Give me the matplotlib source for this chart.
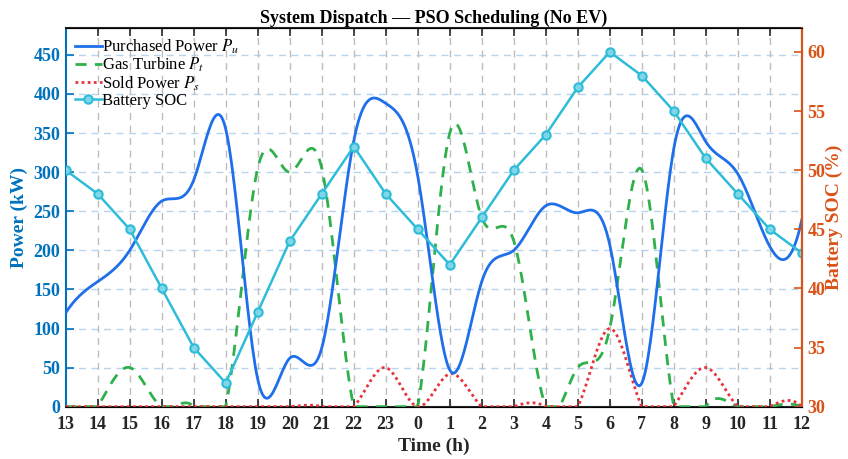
import numpy as np
import matplotlib
matplotlib.use("Agg")
import matplotlib.pyplot as plt

plt.rcParams['font.family'] = ['Liberation Serif', 'DejaVu Serif']
plt.rcParams['mathtext.fontset'] = 'stix'

# hourly schedule, starting at 13:00
hour_labels = [13, 14, 15, 16, 17, 18, 19, 20, 21, 22, 23, 0,
               1, 2, 3, 4, 5, 6, 7, 8, 9, 10, 11, 12]
p_purchased = [120, 160, 200, 263, 290, 355, 35, 62, 75, 340, 388, 295,
               47, 160, 200, 257, 248, 207, 30, 330, 339, 298, 205, 239]
p_turbine = [0, 0, 50, 0, 0, 0, 305, 300, 305, 0, 0, 0,
             350, 242, 212, 0, 50, 100, 303, 0, 0, 0, 0, 0]
p_sold = [0, 0, 0, 0, 0, 0, 0, 0, 0, 0, 50, 0,
          42, 0, 0, 0, 0, 100, 0, 0, 50, 0, 0, 0]
soc = [50, 48, 45, 40, 35, 32, 38, 44, 48, 52, 48, 45,
       42, 46, 50, 53, 57, 60, 58, 55, 51, 48, 45, 43]

C_LEFT = '#0072BD'
C_RIGHT = '#D95319'


def spline_curve(y, num=600):
    """Not-a-knot cubic spline through equally spaced points (like MATLAB spline)."""
    y = np.asarray(y, dtype=float)
    n = len(y)
    A = np.zeros((n, n))
    b = np.zeros(n)
    A[0, :3] = [1, -2, 1]
    A[-1, -3:] = [1, -2, 1]
    for i in range(1, n - 1):
        A[i, i - 1:i + 2] = [1, 4, 1]
        b[i] = 6 * (y[i + 1] - 2 * y[i] + y[i - 1])
    M = np.linalg.solve(A, b)
    xs = np.linspace(0, n - 1, num)
    idx = np.clip(np.floor(xs).astype(int), 0, n - 2)
    u = xs - idx
    v = 1 - u
    ys = (v * y[idx] + u * y[idx + 1]
          + (v ** 3 - v) * M[idx] / 6 + (u ** 3 - u) * M[idx + 1] / 6)
    return xs, np.maximum(ys, 0)


x = np.arange(len(hour_labels))

fig = plt.figure(figsize=(8.48, 4.59), dpi=100)
ax = fig.add_axes([0.0775, 0.114, 0.868, 0.8243])
ax2 = ax.twinx()

xs, ys = spline_curve(p_purchased)
l1, = ax.plot(xs, ys, color='#1F6FEB', lw=2.0, zorder=4)
xs, ys = spline_curve(p_turbine)
l2, = ax.plot(xs, ys, color='#2EB04A', lw=2.0, ls=(0, (4, 3)), zorder=3)
xs, ys = spline_curve(p_sold)
l3, = ax.plot(xs, ys, color='#E8333A', lw=2.0, ls=(0, (1, 1.2)), zorder=3)
l4, = ax2.plot(x, soc, color='#2EBCD9', lw=1.8, marker='o', ms=6,
               mfc='#7FD6E8', mec='#2EBCD9', mew=1.5)

ax.set_xlim(0, 23)
ax.set_ylim(0, 484)
ax2.set_ylim(30, 62)
ax.set_xticks(x)
ax.set_xticklabels([str(h) for h in hour_labels])
ax.set_yticks(np.arange(0, 451, 50))
ax2.set_yticks(np.arange(30, 61, 5))

# grid: blue-ish horizontal, gray vertical
for v in np.arange(50, 451, 50):
    ax.axhline(v, color='#B5D5EE', lw=1.0, ls=(0, (5, 4)), zorder=0)
for v in x[1:-1]:
    ax.axvline(v, color='#BDBDBD', lw=1.0, ls=(0, (5, 4)), zorder=0)

for a in (ax, ax2):
    a.tick_params(direction='in', length=6, width=1.2, labelsize=13)
    for lab in a.get_xticklabels() + a.get_yticklabels():
        lab.set_fontweight('bold')
ax.tick_params(axis='x', top=True, colors='#262626', pad=7)
ax.tick_params(axis='y', colors=C_LEFT, pad=4)
ax2.tick_params(axis='y', colors=C_RIGHT, pad=4)
ax.spines['left'].set_color(C_LEFT)
ax2.spines['left'].set_visible(False)
ax2.spines['right'].set_color(C_RIGHT)
for s in ('top', 'bottom'):
    ax.spines[s].set_color('#262626')
for s in ax.spines.values():
    s.set_linewidth(1.5)
ax2.spines['right'].set_linewidth(1.5)

ax.set_xlabel('Time (h)', fontsize=14, fontweight='bold', color='#262626', labelpad=3)
ax.set_ylabel('Power (kW)', fontsize=14, fontweight='bold', color=C_LEFT, labelpad=4)
ax2.set_ylabel('Battery SOC (%)', fontsize=14, fontweight='bold', color=C_RIGHT, labelpad=0)
ax.set_title('System Dispatch — PSO Scheduling (No EV)', fontsize=13,
             fontweight='bold', pad=4)

ax2.legend([l1, l2, l3, l4],
           ['Purchased Power $P_u$', 'Gas Turbine $P_t$', 'Sold Power $P_s$', 'Battery SOC'],
           loc='upper left', frameon=False, fontsize=12, handlelength=1.6,
           handletextpad=0.05, labelspacing=0.0, borderaxespad=0.15,
           bbox_to_anchor=(0.0, 1.0))

fig.savefig('out.png', dpi=100)
